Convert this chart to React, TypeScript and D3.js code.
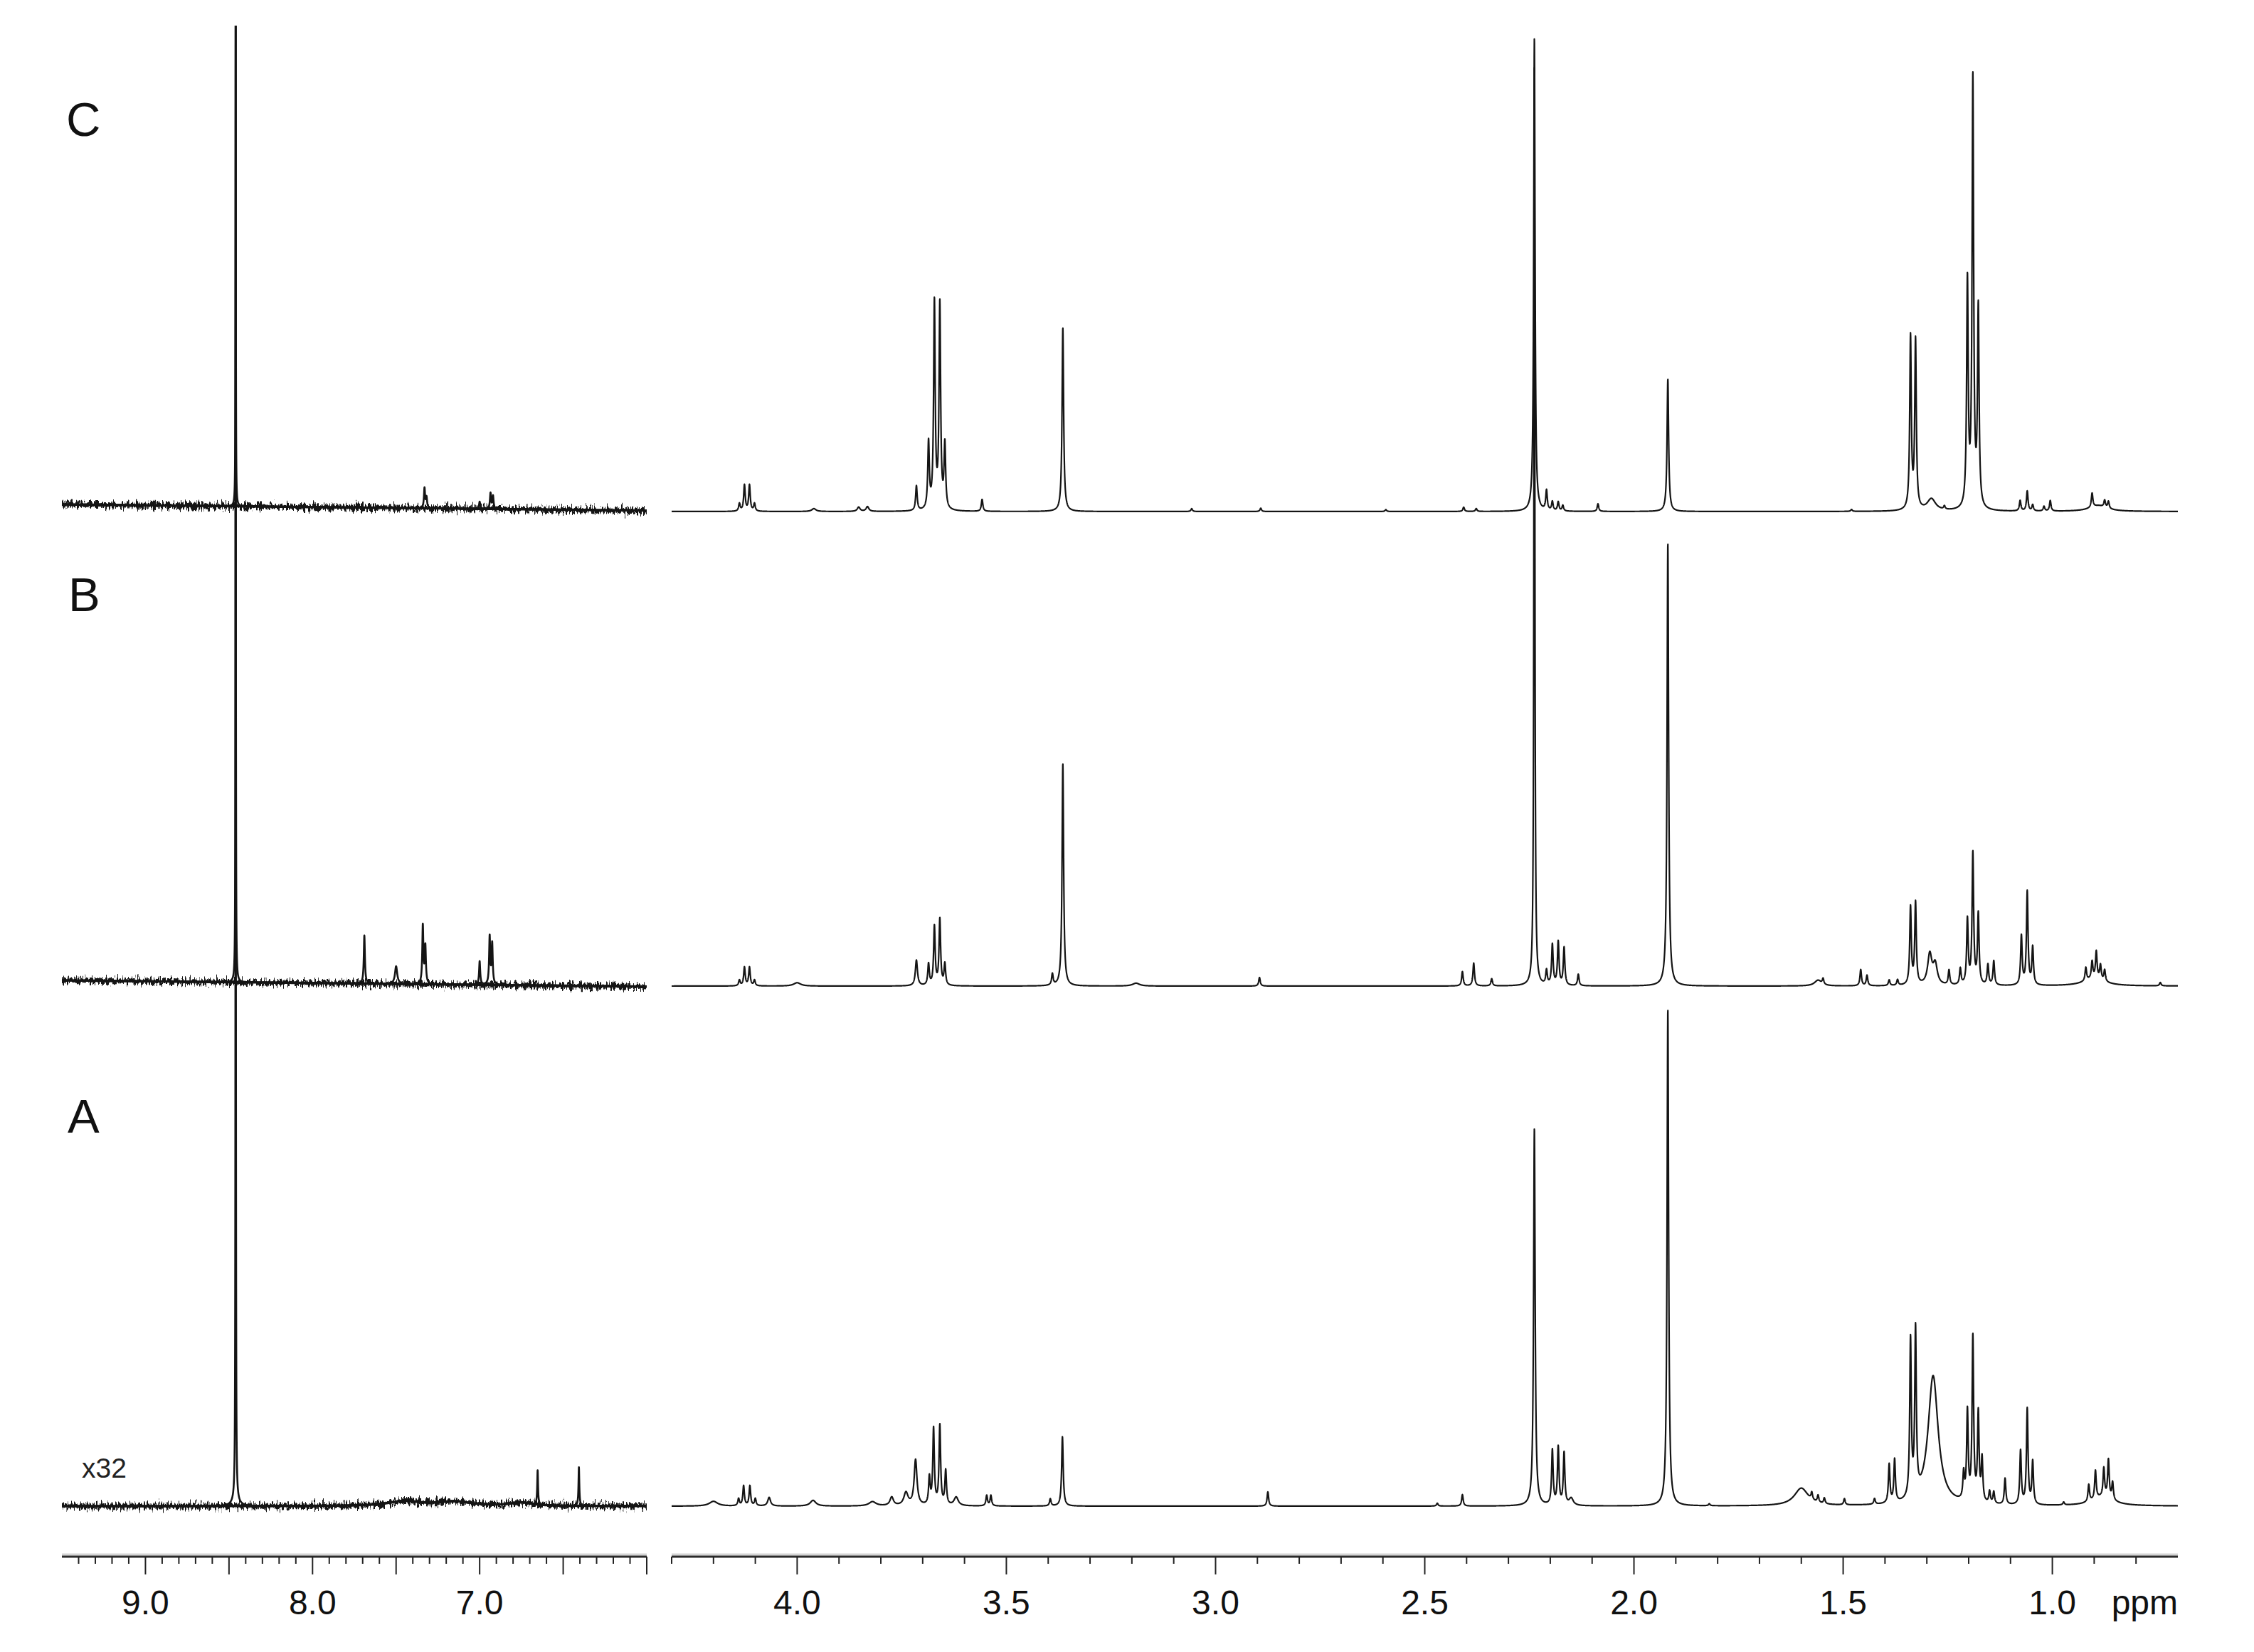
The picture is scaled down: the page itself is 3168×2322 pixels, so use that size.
import React, { useMemo } from 'react';
import * as d3 from 'd3';

// ---------- DATA ----------
// Spectra labels (top to bottom)
const spectrumNames = ['C', 'B', 'A'];
const scaleLabel = 'x32';
const unitLabel = 'ppm';

// Axis domains (ppm)
const leftDomain = [9.5, 6.0];
const rightDomain = [4.3, 0.7];
const leftTickLabels = [9.0, 8.0, 7.0];
const rightTickLabels = [4.0, 3.5, 3.0, 2.5, 2.0, 1.5, 1.0];

// Peaks: [ppm, intensity (C 2.24 ppm = 100), half-width (ppm, optional)]
type Peak = [number, number, number?];

const peaksC_left: Peak[] = [
  [8.46, 110, 0.0012], [7.33, 4.2], [7.318, 2.2], [7.0, 1.5], [6.935, 3.3], [6.92, 2.7],
];
const peaksB_left: Peak[] = [
  [8.46, 210, 0.0012], [7.69, 10.1], [7.50, 3.7, 0.008], [7.34, 12.2], [7.325, 7.8],
  [7.0, 4.9], [6.94, 10.0], [6.925, 8.5],
];
const peaksA_left: Peak[] = [
  [8.46, 320, 0.0012], [8.46, 1.5, 0.02], [7.45, 1.0, 0.12], [7.15, 0.9, 0.12], [6.75, 0.7, 0.08],
  [6.653, 7.2, 0.003], [6.406, 8.1, 0.003],
];

const peaksC_right: Peak[] = [
  [4.138, 1.6], [4.126, 5.5], [4.114, 5.5], [4.102, 1.6],
  [3.96, 0.6, 0.006], [3.853, 0.9, 0.004], [3.832, 1.0, 0.004],
  [3.715, 5.2], [3.686, 14.0], [3.672, 43.5], [3.659, 43.0], [3.647, 13.5],
  [3.558, 2.5], [3.365, 38.6], [3.057, 0.6], [2.892, 0.7], [2.593, 0.4],
  [2.407, 0.9], [2.377, 0.6], [2.238, 99.5, 0.0019], [2.209, 4.2], [2.195, 1.9], [2.181, 1.9],
  [2.17, 1.2], [2.086, 1.6], [1.919, 27.8], [1.48, 0.4],
  [1.339, 36.2], [1.327, 35.4], [1.289, 2.5, 0.012], [1.258, 0.7],
  [1.203, 47.5], [1.19, 90.0], [1.177, 41.5],
  [1.077, 2.2], [1.06, 4.2], [1.047, 1.3], [1.02, 1.0], [1.005, 2.2],
  [0.905, 3.0], [0.89, 1.2, 0.025], [0.875, 1.5], [0.866, 1.5],
];
const peaksB_right: Peak[] = [
  [4.138, 1.2], [4.126, 3.9], [4.114, 3.9], [4.102, 1.2], [4.0, 0.7, 0.01],
  [3.715, 5.4, 0.003], [3.686, 4.5], [3.672, 12.4], [3.659, 13.9], [3.647, 4.5],
  [3.39, 2.4], [3.365, 46.7], [3.19, 0.6, 0.01], [2.895, 1.8],
  [2.41, 3.0], [2.383, 4.8], [2.34, 1.5], [2.238, 194, 0.0013],
  [2.209, 3.0], [2.195, 8.5], [2.181, 9.1], [2.167, 7.9], [2.133, 2.4],
  [1.919, 93.0], [1.56, 1.2, 0.01], [1.548, 1.2], [1.458, 3.4], [1.443, 2.2],
  [1.39, 1.2], [1.37, 1.2], [1.339, 16.3], [1.327, 17.2],
  [1.293, 6.4, 0.006], [1.28, 4.2, 0.006], [1.247, 3.1], [1.22, 3.4],
  [1.203, 13.7], [1.19, 27.6], [1.177, 14.8], [1.154, 4.3], [1.14, 5.1],
  [1.074, 10.3], [1.06, 19.6], [1.047, 7.9],
  [0.92, 2.8], [0.905, 3.6], [0.895, 5.7], [0.885, 3.1], [0.875, 2.4], [0.9, 1.5, 0.03],
  [0.742, 0.7],
];
const peaksA_right: Peak[] = [
  [4.2, 1.0, 0.012], [4.14, 1.5], [4.128, 4.2], [4.113, 4.2], [4.10, 1.5],
  [4.067, 1.8, 0.004], [3.962, 1.2, 0.008], [3.82, 0.9, 0.01], [3.774, 1.8, 0.005],
  [3.74, 2.7, 0.006], [3.717, 9.6, 0.004], [3.684, 5.7], [3.674, 16.0], [3.659, 16.7],
  [3.645, 7.2], [3.62, 1.8, 0.006], [3.547, 2.2], [3.537, 2.2], [3.395, 1.5], [3.366, 14.6],
  [2.875, 3.0], [2.47, 0.6], [2.41, 2.4], [2.238, 79.3],
  [2.195, 11.5], [2.181, 12.1], [2.167, 10.9], [2.15, 1.5, 0.006],
  [1.919, 104.3], [1.82, 0.4], [1.60, 3.7, 0.02], [1.575, 1.5], [1.56, 1.5], [1.545, 1.2],
  [1.497, 1.3], [1.425, 1.2], [1.39, 8.1], [1.377, 9.0],
  [1.339, 33.0], [1.327, 34.5], [1.285, 27.2, 0.0145],
  [1.212, 5.5], [1.203, 18.7], [1.19, 34.5], [1.177, 18.5], [1.168, 9.0],
  [1.15, 2.5], [1.14, 2.5], [1.113, 5.5],
  [1.076, 11.3], [1.06, 20.1], [1.047, 9.0], [0.973, 0.6],
  [0.913, 3.6], [0.897, 6.0], [0.877, 6.0], [0.866, 8.1], [0.856, 3.7], [0.88, 1.8, 0.03],
];

// Left-panel baseline offsets (intensity units at 9.5 and 6.0 ppm)
const leftBaselineC = [1.5, 0.2];
const leftBaselineB = [1.2, -0.1];
const leftBaselineA = [0.0, 0.0];

// ---------- LAYOUT ----------
const W = 3168;
const H = 2322;
const baseY = [719, 1386, 2117];
const clipTop = 36;
const axisY = 2188;

function lorentzSum(peaks: Peak[], defaultW: number, dom: number[], step: number, base: number[]) {
  const [a, b] = dom;
  const n = Math.round((a - b) / step);
  const pts: [number, number][] = [];
  for (let i = 0; i <= n; i++) {
    const x = a - i * step;
    const t = (a - x) / (a - b);
    let y = base[0] + (base[1] - base[0]) * t;
    for (const p of peaks) {
      const g = p[2] ?? defaultW;
      const d = x - p[0];
      y += (p[1] * g * g) / (d * d + g * g);
    }
    pts.push([x, y]);
  }
  return pts;
}

export default function App() {
  const xL = d3.scaleLinear().domain(leftDomain).range([87, 909]);
  const xR = d3.scaleLinear().domain(rightDomain).range([944, 3061]);
  const yS = d3.scaleLinear().domain([0, 100]).range([0, 669]);

  const spectra = useMemo(() => {
    const lefts = [peaksC_left, peaksB_left, peaksA_left];
    const rights = [peaksC_right, peaksB_right, peaksA_right];
    const lb = [leftBaselineC, leftBaselineB, leftBaselineA];
    return spectrumNames.map((name, i) => ({
      name,
      left: lorentzSum(lefts[i], 0.004, leftDomain, 0.0002, lb[i]),
      // baseline (broad humps only) carrying the noise band
      band: lorentzSum(lefts[i].filter((p) => (p[2] ?? 0) >= 0.05), 0.004, leftDomain, 0.002, lb[i]),
      right: lorentzSum(rights[i], 0.0022, rightDomain, 0.0003, [0, 0]),
      y0: baseY[i],
    }));
  }, []);

  const leftTicks = d3.range(0, 35).map((i) => +(9.4 - i * 0.1).toFixed(1));
  const rightTicks = d3.range(0, 36).map((i) => +(4.3 - i * 0.1).toFixed(1));
  const isMajor = (v: number) => Math.abs(v * 2 - Math.round(v * 2)) < 1e-6;

  return (
    <svg width={W} height={H} style={{ position: 'absolute', left: 0, top: 0, background: '#fff' }}
      fontFamily="'Liberation Sans', Arial, sans-serif">
      <defs>
        <clipPath id="clipTop">
          <rect x={0} y={clipTop} width={W} height={H - clipTop} />
        </clipPath>
        <filter id="noise" filterUnits="userSpaceOnUse" x={0} y={0} width={W} height={H}>
          <feTurbulence type="fractalNoise" baseFrequency="0.45 0.08" numOctaves={2} seed={7} result="turb" />
          <feColorMatrix in="turb" type="matrix"
            values="0 0 0 0 0.5  0 1 0 0 0  0 0 0 0 0.5  0 0 0 0 1" result="disp" />
          <feDisplacementMap in="SourceGraphic" in2="disp" scale={20} xChannelSelector="R" yChannelSelector="G" />
        </filter>
      </defs>
      <rect x={0} y={0} width={W} height={H} fill="#fff" />
      <g clipPath="url(#clipTop)">
        {spectra.map((s) => {
          const lineL = d3.line<[number, number]>().x((d) => xL(d[0])).y((d) => s.y0 - yS(d[1]));
          const lineR = d3.line<[number, number]>().x((d) => xR(d[0])).y((d) => s.y0 - yS(d[1]));
          const dBand = lineL(s.band) || '';
          return (
            <g key={s.name}>
              <path d={dBand} stroke="#141414" strokeWidth={7} fill="none" filter="url(#noise)" />
              <path d={dBand} stroke="#141414" strokeWidth={3.5} fill="none" />
              <path d={lineL(s.left) || ''} stroke="#141414" strokeWidth={2.6} fill="none" strokeLinejoin="round" />
              <path d={lineR(s.right) || ''} stroke="#141414" strokeWidth={2.2} fill="none" strokeLinejoin="round" />
            </g>
          );
        })}
      </g>

      {/* panel letters */}
      <text x={93} y={191} fontSize={67} fill="#111">{spectrumNames[0]}</text>
      <text x={96} y={859} fontSize={67} fill="#111">{spectrumNames[1]}</text>
      <text x={95} y={1592} fontSize={67} fill="#111">{spectrumNames[2]}</text>
      <text x={115} y={2077} fontSize={39} fill="#222">{scaleLabel}</text>

      {/* axes */}
      {[xL, xR].map((xs, k) => {
        const r = xs.range();
        const ticks = k === 0 ? leftTicks : rightTicks;
        const labels = k === 0 ? leftTickLabels : rightTickLabels;
        return (
          <g key={k}>
            <line x1={r[0]} x2={r[1]} y1={axisY - 3} y2={axisY - 3} stroke="#d4d4d4" strokeWidth={3} />
            <line x1={r[0]} x2={r[1]} y1={axisY} y2={axisY} stroke="#2a2a2a" strokeWidth={3} />
            {ticks.map((t) => (
              <line key={t} x1={xs(t)} x2={xs(t)} y1={axisY} y2={axisY + (isMajor(t) ? 25 : 10)}
                stroke="#222" strokeWidth={2} />
            ))}
            {labels.map((t) => (
              <text key={t} x={xs(t)} y={2269} fontSize={48} textAnchor="middle" fill="#111">
                {t.toFixed(1)}
              </text>
            ))}
          </g>
        );
      })}
      <text x={3061} y={2269} fontSize={48} textAnchor="end" fill="#111">{unitLabel}</text>
    </svg>
  );
}
